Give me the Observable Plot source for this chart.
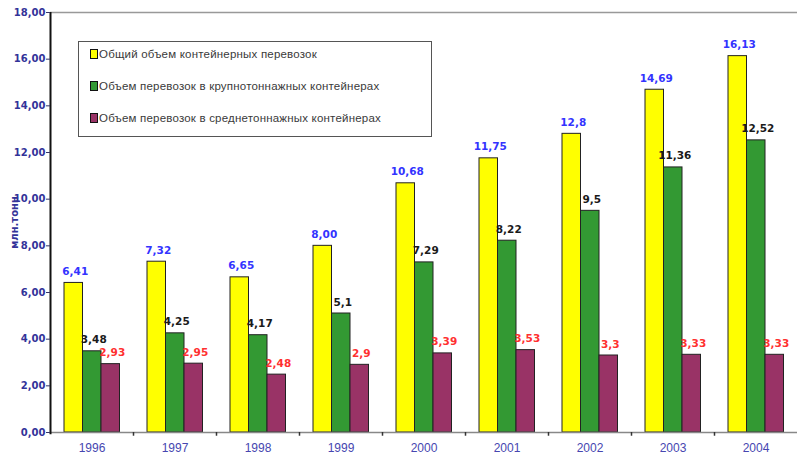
<!DOCTYPE html>
<html>
<head>
<meta charset="utf-8">
<script src="https://cdn.jsdelivr.net/npm/d3@7"></script>
<script src="https://cdn.jsdelivr.net/npm/@observablehq/plot@0.6"></script>
<style>
  html, body { margin: 0; padding: 0; background: #fff; }
  #wrap { position: relative; width: 799px; height: 460px; }
  #legend { position: absolute; left: 78px; top: 41px; width: 352px; height: 94px;
            border: 1.5px solid #555; background: #fff; box-sizing: content-box; }
  .row { position: absolute; left: 11px; display: flex; align-items: center;
         font-family: "Liberation Sans", Arial, sans-serif; font-size: 11.5px; color: #3a3a3a;
         letter-spacing: 0.2px; }
  .sw { width: 6px; height: 8px; border: 1px solid #111; margin-right: 1px; }
</style>
</head>
<body>
<div id="wrap"></div>
<script>
const years = ["1996", "1997", "1998", "1999", "2000", "2001", "2002", "2003", "2004"];
const seriesNames = [
  "Общий объем контейнерных перевозок",
  "Объем перевозок в крупнотоннажных контейнерах",
  "Объем перевозок в среднетоннажных контейнерах"
];
const totalValues = [6.41, 7.32, 6.65, 8.00, 10.68, 11.75, 12.8, 14.69, 16.13];
const largeValues = [3.48, 4.25, 4.17, 5.1, 7.29, 8.22, 9.5, 11.36, 12.52];
const mediumValues = [2.93, 2.95, 2.48, 2.9, 3.39, 3.53, 3.3, 3.33, 3.33];
const totalLabels = ["6,41", "7,32", "6,65", "8,00", "10,68", "11,75", "12,8", "14,69", "16,13"];
const largeLabels = ["3,48", "4,25", "4,17", "5,1", "7,29", "8,22", "9,5", "11,36", "12,52"];
const mediumLabels = ["2,93", "2,95", "2,48", "2,9", "3,39", "3,53", "3,3", "3,33", "3,33"];
const yTicks = [0, 2, 4, 6, 8, 10, 12, 14, 16, 18];
const yLabel = "млн.тонн";

const barColors = ["#ffff00", "#339933", "#993366"];
const labelColors = ["#3333ff", "#1a1a1a", "#ff3030"];

const W = 799, H = 460, mL = 50, mR = 2, mT = 12, mB = 28;
const step = (W - mL - mR) / years.length;
const outer = 14, bw = 18.5;

const seriesValues = [totalValues, largeValues, mediumValues];
const seriesLabels = [totalLabels, largeLabels, mediumLabels];
const tables = seriesValues.map((vals, i) =>
  years.map((y, j) => ({year: y, value: vals[j], label: seriesLabels[i][j]})));

const marks = [];
marks.push(Plot.ruleY([18], {stroke: "#999", strokeWidth: 1.5}));
tables.forEach((t, i) => {
  const left = outer + i * bw;
  const right = step - left - bw;
  marks.push(Plot.barY(t, {x: "year", y: "value", fill: barColors[i], stroke: "#222", strokeWidth: 1,
    insetLeft: left, insetRight: right}));
});
tables.forEach((t, i) => {
  const center = outer + (i + 0.5) * bw - step / 2;
  marks.push(Plot.text(t, {x: "year", y: "value", text: "label", fill: labelColors[i],
    dx: center + 1.5, dy: -8, lineAnchor: "bottom", fontWeight: "bold", fontSize: 10.5,
    fontFamily: "DejaVu Sans, sans-serif"}));
});
marks.push(Plot.ruleY([0], {stroke: "#888", strokeWidth: 1.5}));
marks.push(Plot.ruleX(years.slice(0, -1), {dx: step / 2, y1: 0, y2: -0.16, stroke: "#333", strokeWidth: 1.5}));
marks.push(Plot.ruleX([years[0]], {dx: -step / 2, y1: -0.1, y2: 18, stroke: "#111", strokeWidth: 2}));
marks.push(Plot.axisY({ticks: yTicks, tickFormat: d => d.toFixed(2).replace(".", ","),
  tickSize: 4, stroke: "#333366", fill: "#333399", fontWeight: "bold", fontSize: 10,
  fontFamily: "DejaVu Sans, sans-serif", tickPadding: 1,
  label: yLabel, labelAnchor: "center", labelOffset: 40, labelArrow: "none"}));
marks.push(Plot.axisX({tickSize: 0, tickPadding: 11, fill: "#4646b0", fontSize: 12,
  fontFamily: "Liberation Sans, Arial, sans-serif", label: null}));

const chart = Plot.plot({
  width: W, height: H,
  marginLeft: mL, marginRight: mR, marginTop: mT, marginBottom: mB,
  x: {type: "band", domain: years, padding: 0},
  y: {domain: [0, 18]},
  style: {background: "#fff", overflow: "visible"},
  marks
});
const wrap = document.getElementById("wrap");
wrap.appendChild(chart);

// y-axis label styling
chart.querySelectorAll("[aria-label='y-axis label'] text").forEach(t => {
  t.setAttribute("font-size", "10");
});

const legend = document.createElement("div");
legend.id = "legend";
const rowTops = [4, 36, 68];
seriesNames.forEach((name, i) => {
  const row = document.createElement("div");
  row.className = "row";
  row.style.top = rowTops[i] + "px";
  row.style.height = "16px";
  const sw = document.createElement("span");
  sw.className = "sw";
  sw.style.background = barColors[i];
  const tx = document.createElement("span");
  tx.textContent = name;
  row.appendChild(sw);
  row.appendChild(tx);
  legend.appendChild(row);
});
wrap.appendChild(legend);
</script>
</body>
</html>
